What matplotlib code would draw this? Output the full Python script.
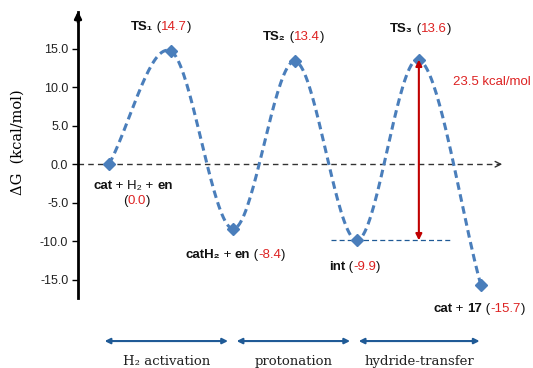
import numpy as np
import matplotlib
matplotlib.use("Agg")
import matplotlib.pyplot as plt

W, H = 533, 368
SANS = ["Liberation Sans", "DejaVu Sans"]
SERIF = ["DejaVu Serif", "Liberation Serif"]
RED = "#dd2222"
BLUE = "#4a7ebb"
DARK_BLUE = "#1f5a96"

# energy profile (kcal/mol)
dG = [0.0, 14.7, -8.4, 13.4, -9.9, 13.6, -15.7]
yticks = [-15.0, -10.0, -5.0, 0.0, 5.0, 10.0, 15.0]
stages = ["H\u2082 activation", "protonation", "hydride-transfer"]
barrier = 23.5


def catmull_rom(xs, ys, n=40):
    """Smooth curve through the points (similar to Excel's smoothed lines)."""
    p = np.column_stack([xs, ys]).astype(float)
    ext = np.vstack([2 * p[0] - p[1], p, 2 * p[-1] - p[-2]])
    out = []
    for i in range(1, len(ext) - 2):
        p0, p1, p2, p3 = ext[i - 1], ext[i], ext[i + 1], ext[i + 2]
        m1 = (p2 - p0) / 2
        m2 = (p3 - p1) / 2
        t = np.linspace(0, 1, n)[:, None]
        h00 = 2 * t**3 - 3 * t**2 + 1
        h10 = t**3 - 2 * t**2 + t
        h01 = -2 * t**3 + 3 * t**2
        h11 = t**3 - t**2
        out.append(h00 * p1 + h10 * m1 + h01 * p2 + h11 * m2)
    c = np.vstack(out)
    return c[:, 0], c[:, 1]


fig = plt.figure(figsize=(W / 100, H / 100), dpi=100)
ax = fig.add_axes([78 / W, 1 - 298 / H, (505 - 78) / W, (298 - 12) / H])
ax.set_xlim(-0.5, 6.39)
ax.set_ylim(-17.4, 19.8)

x = np.arange(len(dG))
cx, cy = catmull_rom(x, dG)
ax.plot(cx, cy, color=BLUE, lw=2.2, linestyle=(0, (2.5, 1.5)), zorder=3)
ax.plot(x, dG, "D", color=BLUE, ms=6, zorder=4)

# zero reference line with arrow
ax.plot([-0.5, 6.3], [0, 0], color="#333333", lw=1, linestyle=(0, (4, 3)), zorder=2)
ax.annotate("", xy=(6.39, 0), xytext=(6.25, 0),
            arrowprops=dict(arrowstyle="->", color="#333333", lw=1), annotation_clip=False)

# barrier from int to TS3
ax.plot([3.58, 5.53], [dG[4], dG[4]], color=DARK_BLUE, lw=0.9, linestyle=(0, (4, 2.5)), zorder=2)
ax.annotate("", xy=(5, dG[5]), xytext=(5, dG[4]),
            arrowprops=dict(arrowstyle="<|-|>", color="#c00000", lw=1.5,
                            mutation_scale=9, shrinkA=0, shrinkB=0), zorder=5)

# axes styling
for s in ["top", "right", "bottom"]:
    ax.spines[s].set_visible(False)
ax.spines["left"].set_linewidth(2)
ax.annotate("", xy=(-0.5, 19.9), xytext=(-0.5, 18.5),
            arrowprops=dict(arrowstyle="-|>", color="black", lw=2, mutation_scale=10,
                            shrinkA=0, shrinkB=0), annotation_clip=False)
ax.set_xticks([])
ax.set_yticks(yticks, labels=[f"{v:.1f}" for v in yticks])
ax.tick_params(axis="y", length=4, width=1, labelsize=9, labelcolor="#222222", pad=3)
for lab in ax.get_yticklabels():
    lab.set_family(SANS)

fig.text(18 / W, 1 - 142 / H, "\u0394G  (kcal/mol)", rotation=90, ha="center", va="center",
         family=SERIF, fontsize=10.5)


def rich_text(px, py, parts, size=9.5):
    t = fig.text(px / W, 1 - py / H, parts[0][0], color=parts[0][1], weight=parts[0][2],
                 fontsize=size, ha="left", va="center", family=SANS)
    for s, color, weight in parts[1:]:
        t = ax.annotate(s, xy=(1, 0), xycoords=t, ha="left", va="bottom", color=color,
                        weight=weight, fontsize=size, family=SANS)


def val(i):
    return f"{dG[i]:.1f}"


K = "#111111"
rich_text(131, 27, [("TS\u2081", K, "bold"), (" (", K, "normal"), (val(1), RED, "normal"), (")", K, "normal")])
rich_text(263, 37, [("TS\u2082", K, "bold"), (" (", K, "normal"), (val(3), RED, "normal"), (")", K, "normal")])
rich_text(390, 29, [("TS\u2083", K, "bold"), (" (", K, "normal"), (val(5), RED, "normal"), (")", K, "normal")])
rich_text(93, 186, [("cat", K, "bold"), (" + H\u2082 + ", K, "normal"), ("en", K, "bold")])
rich_text(123, 201, [("(", K, "normal"), (val(0), RED, "normal"), (")", K, "normal")])
rich_text(185, 255, [("catH\u2082", K, "bold"), (" + ", K, "normal"), ("en", K, "bold"),
                     (" (", K, "normal"), (val(2), RED, "normal"), (")", K, "normal")])
rich_text(329, 267, [("int", K, "bold"), (" (", K, "normal"), (val(4), RED, "normal"), (")", K, "normal")])
rich_text(433, 309, [("cat", K, "bold"), (" + ", K, "normal"), ("17", K, "bold"),
                     (" (", K, "normal"), (val(6), RED, "normal"), (")", K, "normal")])
fig.text(453 / W, 1 - 82 / H, f"{barrier} kcal/mol", color=RED, fontsize=9.5, ha="left",
         va="center", family=SANS)

# reaction stage arrows
spans = [(-0.07, 1.92), (2.06, 3.89), (4.03, 5.98)]
for (a, b), name in zip(spans, stages):
    ax.annotate("", xy=(b, -23.0), xytext=(a, -23.0), annotation_clip=False,
                arrowprops=dict(arrowstyle="<|-|>", color=DARK_BLUE, lw=1.5,
                                mutation_scale=8, shrinkA=0, shrinkB=0))
    ax.text((a + b) / 2, -25.6, name, ha="center", va="center", family=SERIF,
            fontsize=9.5, color="#222222", clip_on=False)

fig.savefig("out.png", dpi=100)
